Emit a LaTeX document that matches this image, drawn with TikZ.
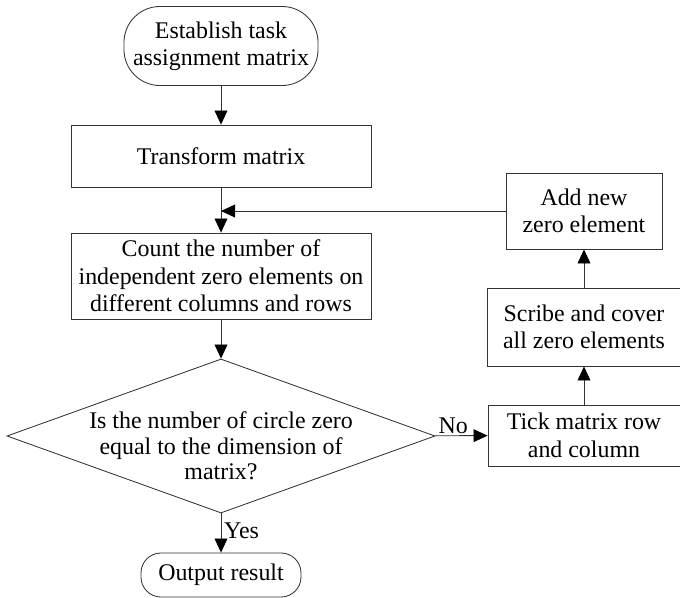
\documentclass[tikz,border=0pt]{standalone}
\usepackage{fontspec}
\setmainfont{Liberation Serif}
\usetikzlibrary{arrows.meta, positioning, shapes.geometric}

\begin{document}
\begin{tikzpicture}[
      x=0.025cm, y=-0.025cm,
      font=\fontsize{17}{19.5}\selectfont,
      every node/.style={align=center, inner sep=0pt},
      proc/.style={draw=black!80, line width=0.6pt},
      term/.style={draw=black!80, line width=0.6pt},
      decision/.style={draw=black!80, line width=0.6pt, diamond, aspect=2.78,
                       inner sep=0pt, minimum width=10.7cm, minimum height=3.85cm},
      a/.style={draw=black!80, line width=0.6pt,
                -{Triangle[length=0.35cm, width=0.32cm, color=black]}},
      lbl/.style={inner sep=0pt},
    ]
    \useasboundingbox (0,0) rectangle (680,598);

    % ---- main column ----
    \node[term, rounded corners=0.9cm, minimum width=4.85cm, minimum height=1.975cm]
      (start) at (221,46) {Establish task\\assignment matrix};
    \node[proc, minimum width=7.5cm, minimum height=1.55cm]
      (trans) at (221,156) {Transform matrix};
    \node[proc, minimum width=7.5cm, minimum height=2.15cm]
      (count) at (221,276) {Count the number of\\independent zero elements on\\different columns and rows};
    \node[decision] (dec) at (221,436) {};
    % question text sits a little below the middle of the diamond
    \node[lbl, font=\fontsize{17}{18}\selectfont] (decq) at (221,446)
      {Is the number of circle zero\\equal to the dimension of\\matrix?};
    \node[term, rounded corners=0.5cm, minimum width=4cm, minimum height=1.1cm]
      (out) at (221,575) {Output result};

    % ---- correction loop on the right ----
    \node[proc, minimum width=4.8cm, minimum height=1.525cm]
      (tick) at (584,435.5) {Tick matrix row\\and column};
    \node[proc, minimum width=4.85cm, minimum height=1.95cm]
      (scribe) at (584,327) {Scribe and cover\\all zero elements};
    \node[proc, minimum width=3.9cm, minimum height=1.9cm]
      (add) at (584,211) {Add new\\zero element};
    \coordinate (join) at (trans.south |- add.west);

    % ---- arrows ----
    \draw[a] (start) -- (trans);
    \draw[a] (trans) -- (count);
    \draw[a] (count) -- (dec);
    \draw[a] (dec) -- node[lbl, above=1pt, pos=0.35] {No} (tick);
    \draw[a] (dec) -- node[lbl, right=2pt, pos=0.44] {Yes} (out);
    \draw[a] (tick) -- (scribe);
    \draw[a] (scribe) -- (add);
    \draw[a] (add) -- (join);
  \end{tikzpicture}
\end{document}
